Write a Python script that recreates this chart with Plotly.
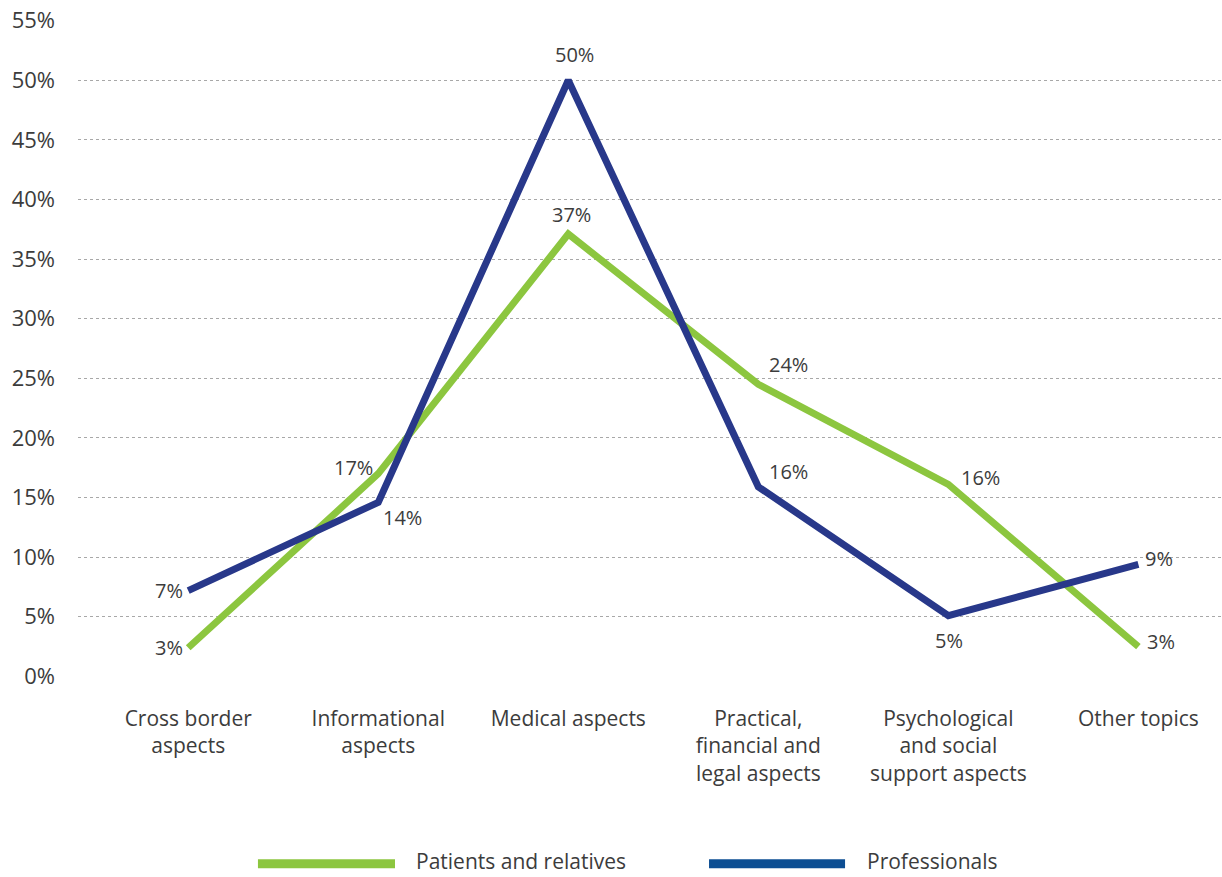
import plotly.graph_objects as go

categories = ["Cross border<br>aspects", "Informational<br>aspects", "Medical aspects",
              "Practical,<br>financial and<br>legal aspects",
              "Psychological<br>and social<br>support aspects", "Other topics"]
patients = [2.4, 17.0, 37.1, 24.5, 16.1, 2.5]
patients_labels = ["3%", "17%", "37%", "24%", "16%", "3%"]
professionals = [7.2, 14.6, 50.0, 15.9, 5.1, 9.4]
professionals_labels = ["7%", "14%", "50%", "16%", "5%", "9%"]
series_names = ["Patients and relatives", "Professionals"]
y_ticks = [0, 5, 10, 15, 20, 25, 30, 35, 40, 45, 50, 55]
y_tick_text = [f"{v}%" for v in y_ticks]

GREEN = "#8CC63F"
NAVY = "#28388A"
NAVY_LEGEND = "#0D4E93"
TEXT = "#3C3C3C"
FONT = "Open Sans"

fig = go.Figure()
fig.add_trace(go.Scatter(x=categories, y=patients, mode="lines", name=series_names[0],
                         line=dict(color=GREEN, width=7), showlegend=False))
fig.add_trace(go.Scatter(x=categories, y=professionals, mode="lines", name=series_names[1],
                         line=dict(color=NAVY, width=7), showlegend=False))

# label placement (style only): xanchor, yanchor, xshift, yshift
green_place = [("right", "middle", -3, 0), ("right", "middle", -3, 6), ("center", "bottom", 3, 4),
               ("left", "bottom", 9, 4), ("left", "middle", 11, 7), ("left", "middle", 7, 5)]
navy_place = [("right", "middle", -3, 0), ("left", "top", 3, 0), ("center", "bottom", 6, 10),
              ("left", "bottom", 9, 0), ("center", "top", 1, -9), ("left", "middle", 5, 6)]

for vals, labs, places in [(patients, patients_labels, green_place),
                           (professionals, professionals_labels, navy_place)]:
    for c, v, t, (xa, ya, xs, ys) in zip(categories, vals, labs, places):
        fig.add_annotation(x=c, y=v, text=t, showarrow=False, xanchor=xa, yanchor=ya,
                           xshift=xs, yshift=ys, font=dict(family=FONT, size=20, color=TEXT))

# custom legend
legend_y = -0.2801
for (x0, x1, xt), name, col in zip([(0.1573, 0.2771, 0.2946), (0.5516, 0.6705, 0.6888)],
                                    series_names, [GREEN, NAVY_LEGEND]):
    fig.add_shape(type="line", xref="paper", yref="paper", x0=x0, x1=x1,
                  y0=legend_y - 0.004, y1=legend_y - 0.004,
                  line=dict(color=col, width=9))
    fig.add_annotation(xref="paper", yref="paper", x=xt, y=legend_y, text=name, showarrow=False,
                       xanchor="left", yanchor="middle", borderpad=0,
                       font=dict(family=FONT, size=21, color=TEXT))

fig.update_layout(
    width=1222, height=877,
    margin=dict(l=78, r=0, t=20, b=200),
    paper_bgcolor="white", plot_bgcolor="white",
    font=dict(family=FONT, size=21, color=TEXT),
    xaxis=dict(range=[-0.58, 5.44], showgrid=False, zeroline=False, showline=False,
               ticks="", ticklabelstandoff=27, tickfont=dict(size=21)),
    yaxis=dict(range=[-0.05, 55.05], tickvals=y_ticks, ticktext=y_tick_text,
               showgrid=True, gridcolor="#A8A8A8", griddash="dot", gridwidth=1,
               zeroline=False, showline=False, ticks="", ticklabelstandoff=22,
               tickfont=dict(size=22)),
    showlegend=False,
)

fig.write_html("out.html")
